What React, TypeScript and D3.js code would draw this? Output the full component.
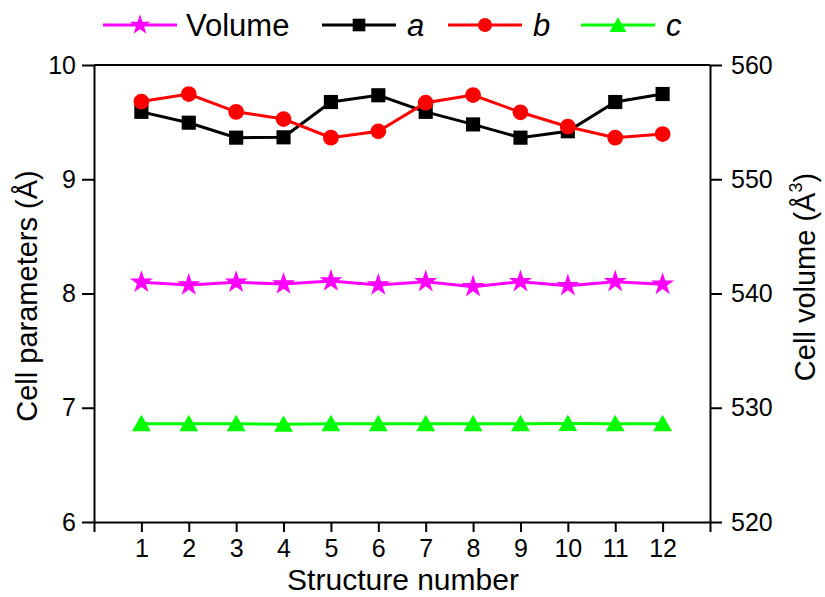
import React, { useEffect, useRef } from 'react'
import * as d3 from 'd3'

// structure numbers 1..12
const structures = [1, 2, 3, 4, 5, 6, 7, 8, 9, 10, 11, 12]
const aValues = [9.59, 9.495, 9.364, 9.367, 9.676, 9.735, 9.59, 9.48, 9.364, 9.42, 9.676, 9.746]
const bValues = [9.68, 9.746, 9.59, 9.527, 9.364, 9.42, 9.67, 9.737, 9.586, 9.46, 9.364, 9.396]
const cValues = [6.86, 6.86, 6.86, 6.855, 6.86, 6.86, 6.86, 6.86, 6.86, 6.862, 6.86, 6.86]
const volumeValues = [540.98, 540.74, 540.98, 540.83, 541.09, 540.74, 541.03, 540.6, 541.03, 540.68, 541.03, 540.8]
const leftTicks = [6, 7, 8, 9, 10]
const rightTicks = [520, 530, 540, 550, 560]

const FONT = 'Liberation Sans, Arial, sans-serif'

const App = () => {
  const ref = useRef(null)

  useEffect(() => {
    const svg = d3.select(ref.current)
    svg.selectAll('*').remove()

    const left = 94
    const right = 710
    const top = 65
    const bottom = 522

    const x = d3.scaleLinear().domain([0, 13]).range([left, right])
    const y = d3.scaleLinear().domain([6, 10]).range([bottom, top])
    const yR = d3.scaleLinear().domain([520, 560]).range([bottom, top])

    // top border
    svg.append('line').attr('x1', left).attr('x2', right).attr('y1', top).attr('y2', top)
      .attr('stroke', '#000').attr('stroke-width', 2)

    const bottomAxis = svg.append('g')
      .attr('transform', `translate(0, ${bottom})`)
      .call(d3.axisBottom(x).tickValues(d3.range(0, 14)).tickSize(10).tickSizeOuter(0)
        .tickFormat(d => (d >= 1 && d <= 12 ? String(d) : '')))
    bottomAxis.select('.domain').attr('stroke-width', 2)
    bottomAxis.selectAll('.tick line').attr('stroke-width', 2)
    bottomAxis.selectAll('.tick text').attr('font-size', 25).attr('font-family', FONT)
      .attr('y', 35).attr('dy', 0).attr('fill', '#000')

    const leftAxis = svg.append('g')
      .attr('transform', `translate(${left}, 0)`)
      .call(d3.axisLeft(y).tickValues(leftTicks).tickSize(12).tickSizeOuter(0).tickFormat(d3.format('d')))
    leftAxis.select('.domain').attr('stroke-width', 2)
    leftAxis.selectAll('.tick line').attr('stroke-width', 2)
    leftAxis.selectAll('.tick text').attr('font-size', 25).attr('font-family', FONT).attr('x', -18).attr('fill', '#000')

    const rightAxis = svg.append('g')
      .attr('transform', `translate(${right}, 0)`)
      .call(d3.axisRight(yR).tickValues(rightTicks).tickSize(12).tickSizeOuter(0))
    rightAxis.select('.domain').attr('stroke-width', 2)
    rightAxis.selectAll('.tick line').attr('stroke-width', 2)
    rightAxis.selectAll('.tick text').attr('font-size', 25).attr('font-family', FONT).attr('x', 21).attr('fill', '#000')

    // axis titles
    svg.append('text').attr('x', 403).attr('y', 590)
      .attr('text-anchor', 'middle').attr('font-size', 30).attr('font-family', FONT)
      .text('Structure number')

    svg.append('text').attr('transform', `translate(37, 296) rotate(-90)`)
      .attr('text-anchor', 'middle').attr('font-size', 29).attr('font-family', FONT)
      .text('Cell parameters (Å)')

    const rt = svg.append('text').attr('transform', `translate(815, 277) rotate(-90)`)
      .attr('text-anchor', 'middle').attr('font-size', 29).attr('font-family', FONT)
    rt.append('tspan').text('Cell volume (Å')
    rt.append('tspan').attr('font-size', 18).attr('dy', -13).text('3')
    rt.append('tspan').attr('dy', 13).text(')')

    const series = [
      { name: 'Volume', values: volumeValues, scale: yR, color: '#ff00ff', symbol: d3.symbolStar, size: 165, dy: 0 },
      { name: 'a', values: aValues, scale: y, color: '#000000', symbol: d3.symbolSquare, size: 200, dy: 0 },
      { name: 'b', values: bValues, scale: y, color: '#ff0000', symbol: d3.symbolCircle, size: 195, dy: 0 },
      { name: 'c', values: cValues, scale: y, color: '#00ff00', symbol: d3.symbolTriangle, size: 155, dy: 2 },
    ]

    const drawOrder = [series[3], series[0], series[1], series[2]]
    drawOrder.forEach(s => {
      const line = d3.line<number>().x((d, i) => x(structures[i])).y(d => s.scale(d))
      svg.append('path').datum(s.values).attr('d', line)
        .attr('fill', 'none').attr('stroke', s.color).attr('stroke-width', 3)
      svg.append('g').selectAll('path').data(s.values).enter().append('path')
        .attr('transform', (d, i) => `translate(${x(structures[i])}, ${s.scale(d) + s.dy})`)
        .attr('d', d3.symbol().type(s.symbol).size(s.size)())
        .attr('fill', s.color)
    })

    // legend
    const legendPos = [103, 322, 448, 581]
    series.forEach((s, i) => {
      const g = svg.append('g').attr('transform', `translate(${legendPos[i]}, 25)`)
      g.append('line').attr('x1', 0).attr('x2', 74).attr('stroke', s.color).attr('stroke-width', 3)
      g.append('path').attr('transform', `translate(37, ${s.dy})`)
        .attr('d', d3.symbol().type(s.symbol).size(s.size * 0.8)()).attr('fill', s.color)
      g.append('text').attr('x', s.name === 'Volume' ? 83 : 85).attr('y', 11)
        .attr('font-size', 31).attr('font-family', FONT)
        .attr('font-style', s.name === 'Volume' ? 'normal' : 'italic')
        .text(s.name)
    })
  }, [])

  return <svg ref={ref} width={825} height={597} style={{ display: 'block', position: 'absolute', left: 0, top: 0 }}></svg>
}

export default App
